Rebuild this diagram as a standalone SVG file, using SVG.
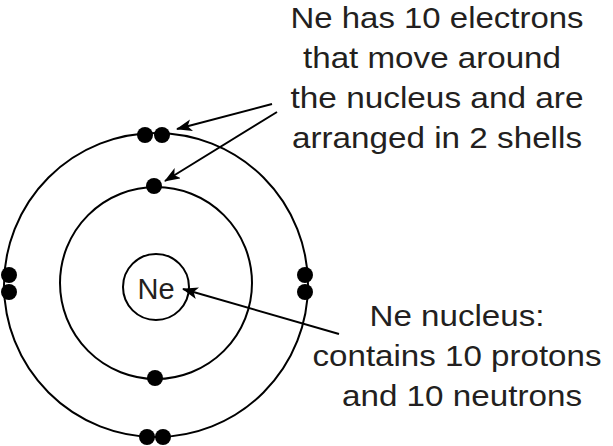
<svg xmlns="http://www.w3.org/2000/svg" width="613" height="446" viewBox="0 0 613 446">
<style>
.c{fill:none;stroke:#000;stroke-width:2}
.e{fill:#000}
text{font-family:"Liberation Sans",Arial,sans-serif;font-size:30px;fill:#231f20;text-anchor:middle}
.l{stroke:#000;stroke-width:2;fill:none;marker-end:url(#a)}
</style>
<defs><marker id="a" markerWidth="16" markerHeight="12" refX="15" refY="6" orient="auto" markerUnits="userSpaceOnUse"><path d="M0,0 L16,6 L0,12 L4,6 Z" fill="#000"/></marker></defs>
<g id="atom">
<circle class="c" cx="156" cy="285" r="152"/>
<circle class="c" cx="156" cy="283" r="96"/>
<circle class="c" cx="156" cy="287" r="33"/>
<text x="156" y="299" style="font-size:29px">Ne</text>
</g>
<g id="electrons">
<circle class="e" cx="145" cy="135" r="8"/><circle class="e" cx="162" cy="135" r="8"/>
<circle class="e" cx="147" cy="437" r="8"/><circle class="e" cx="163" cy="437" r="8"/>
<circle class="e" cx="9" cy="275" r="8"/><circle class="e" cx="9" cy="292" r="8"/>
<circle class="e" cx="305" cy="275" r="8"/><circle class="e" cx="305" cy="292" r="8"/>
<circle class="e" cx="154" cy="186" r="8"/><circle class="e" cx="155" cy="378" r="8"/>
</g>
<g id="connectors">
<path class="l" d="M272,104 L177,129"/>
<path class="l" d="M277,112 L165,181"/>
<path class="l" d="M339,334 L183,289"/>
</g>
<g id="label1">
<text x="437" y="28" textLength="293" lengthAdjust="spacingAndGlyphs">Ne has 10 electrons</text>
<text x="432" y="68" textLength="258" lengthAdjust="spacingAndGlyphs">that move around</text>
<text x="437" y="108" textLength="293" lengthAdjust="spacingAndGlyphs">the nucleus and are</text>
<text x="437" y="148" textLength="290" lengthAdjust="spacingAndGlyphs">arranged in 2 shells</text>
</g>
<g id="label2">
<text x="457" y="326" textLength="175" lengthAdjust="spacingAndGlyphs">Ne nucleus:</text>
<text x="457" y="366" textLength="289" lengthAdjust="spacingAndGlyphs">contains 10 protons</text>
<text x="462" y="406" textLength="240" lengthAdjust="spacingAndGlyphs">and 10 neutrons</text>
</g>
</svg>
